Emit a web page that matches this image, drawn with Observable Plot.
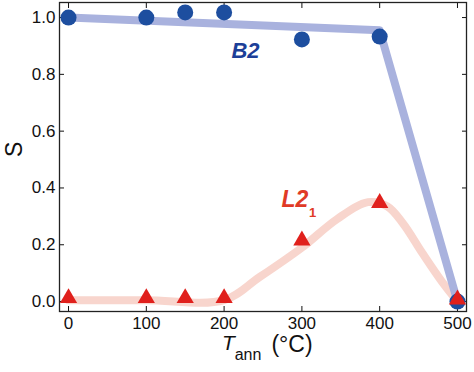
<!DOCTYPE html>
<html>
<head>
<meta charset="utf-8">
<script src="https://cdn.jsdelivr.net/npm/d3@7"></script>
<script src="https://cdn.jsdelivr.net/npm/@observablehq/plot@0.6"></script>
<style>
  html, body { margin: 0; padding: 0; background: #fff; }
  #chart svg { display: block; }
</style>
</head>
<body>
<div id="chart"></div>
<script>
// Measured data
const T = [0, 100, 150, 200, 300, 400, 500];
const B2 = [1.0, 1.0, 1.018, 1.018, 0.923, 0.933, 0.0];
const L21 = [0.005, 0.005, 0.005, 0.005, 0.208, 0.34, 0.0];
// Guide-to-the-eye lines
const B2fitT = [0, 400, 500];
const B2fit = [1.0, 0.955, 0.0];
const L21fitT = [0, 100, 200, 245, 300, 345, 385, 410, 430, 455, 480, 500];
const L21fit = [0.005, 0.005, 0.005, 0.085, 0.19, 0.29, 0.35, 0.335, 0.275, 0.17, 0.07, 0.0];
// Ticks
const xTicks = [0, 100, 200, 300, 400, 500];
const yTicks = [0.0, 0.2, 0.4, 0.6, 0.8, 1.0];

const pts = (xs, ys) => xs.map((x, i) => ({x, y: ys[i]}));
const b2 = pts(T, B2), l21 = pts(T, L21);
const b2fit = pts(B2fitT, B2fit), l21fit = pts(L21fitT, L21fit);

const font = "Liberation Sans, Arial, sans-serif";

const chart = Plot.plot({
  width: 474,
  height: 372,
  marginLeft: 59,
  marginRight: 8,
  marginTop: 2,
  marginBottom: 61,
  style: {fontFamily: font, fontSize: "17px", color: "#111", background: "#fff"},
  x: {domain: [-11.6, 511.6]},
  y: {domain: [-0.035, 1.053]},
  marks: [
    Plot.axisX({anchor: "bottom", ticks: xTicks, tickSize: -5, tickPadding: 10, label: null, tickFormat: d3.format("d"), fontSize: 17}),
    Plot.axisX({anchor: "top", ticks: xTicks, tickSize: -5, label: null, tickFormat: () => ""}),
    Plot.axisY({anchor: "left", ticks: yTicks, tickSize: -5, tickPadding: 9, label: null, tickFormat: d3.format(".1f"), fontSize: 17}),
    Plot.axisY({anchor: "right", ticks: yTicks, tickSize: -5, label: null, tickFormat: () => ""}),
    Plot.frame({stroke: "#222", strokeWidth: 1.3}),
    Plot.line(l21fit, {x: "x", y: "y", curve: "catmull-rom", stroke: "#f8d5cd", strokeWidth: 8}),
    Plot.line(b2fit, {x: "x", y: "y", stroke: "#a9b2de", strokeWidth: 8}),
    Plot.dot(b2, {x: "x", y: "y", r: 8, fill: "#1d4e9f"}),
    Plot.dot(l21, {x: "x", y: "y", symbol: "triangle", r: 6.4, fill: "#e0201c", dy: -2}),
    Plot.text(["B2"], {x: 227.5, y: 0.884, text: d => d, fontSize: 22, fontWeight: "bold", fontStyle: "italic", fill: "#1d3f98", fontFamily: font}),
    Plot.text(["L2"], {x: 273.8, y: 0.358, text: d => d, textAnchor: "start", fontSize: 23, fontWeight: "bold", fontStyle: "italic", fill: "#e03a26", fontFamily: font}),
    Plot.text(["1"], {x: 309, y: 0.358, dy: 13, text: d => d, textAnchor: "start", fontSize: 13, fontWeight: "bold", fill: "#e03a26", fontFamily: font}),
    Plot.text(["S"], {frameAnchor: "left", dx: -45, rotate: -90, text: d => d, fontSize: 23, fill: "#111", fontFamily: font}),
    Plot.text(["T"], {frameAnchor: "bottom", x: 205.6, dy: 38, text: d => d, fontSize: 21, fontStyle: "italic", fill: "#111", fontFamily: font}),
    Plot.text(["ann"], {frameAnchor: "bottom", x: 230.7, dy: 48, text: d => d, fontSize: 16, fill: "#111", fontFamily: font}),
    Plot.text(["(°C)"], {frameAnchor: "bottom", x: 287.3, dy: 40, text: d => d, fontSize: 23, fill: "#111", fontFamily: font})
  ]
});
document.getElementById("chart").appendChild(chart);
</script>
</body>
</html>
